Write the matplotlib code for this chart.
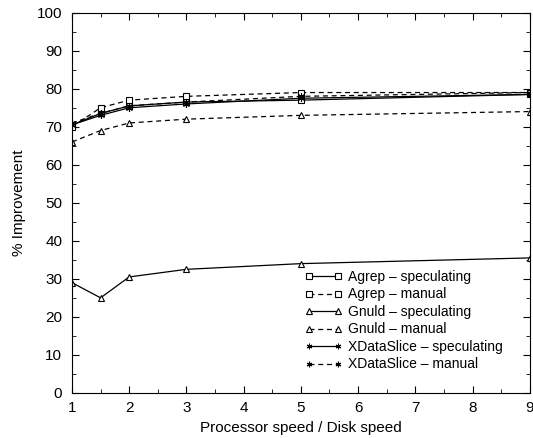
import matplotlib
matplotlib.use("Agg")
import matplotlib.pyplot as plt
from matplotlib.ticker import MultipleLocator

plt.rcParams["font.family"] = ["Liberation Sans", "DejaVu Sans"]

speed = [1, 1.5, 2, 3, 5, 9]
agrep_spec = [70.5, 73.5, 75.5, 76.5, 77, 78.5]
agrep_manual = [70, 75, 77, 78, 79, 79]
gnuld_spec = [29, 25, 30.5, 32.5, 34, 35.5]
gnuld_manual = [66, 69, 71, 72, 73, 74]
xds_spec = [70.5, 73, 75, 76, 77.5, 78.5]
xds_manual = [71, 73.5, 75.5, 76.5, 78, 79]

fig = plt.figure(figsize=(5.33, 4.38), dpi=100)
ax = fig.add_axes([0.135, 0.103, 0.859, 0.868])

star = (6, 2, 0)
dash = (0, (4, 3))
kw = dict(color="black", lw=0.9, ms=5, mfc="white", mew=0.8)
ax.plot(speed, agrep_spec, ls="-", marker="s", label="Agrep \u2013 speculating", **kw)
ax.plot(speed, agrep_manual, ls=dash, marker="s", label="Agrep \u2013 manual", **kw)
ax.plot(speed, gnuld_spec, ls="-", marker="^", label="Gnuld \u2013 speculating", **kw)
ax.plot(speed, gnuld_manual, ls=dash, marker="^", label="Gnuld \u2013 manual", **kw)
ax.plot(speed, xds_spec, ls="-", marker=star, label="XDataSlice \u2013 speculating", **kw)
ax.plot(speed, xds_manual, ls=dash, marker=star, label="XDataSlice \u2013 manual", **kw)

ax.set_xlim(1, 9)
ax.set_ylim(0, 100)
ax.xaxis.set_major_locator(MultipleLocator(1))
ax.xaxis.set_minor_locator(MultipleLocator(0.5))
ax.yaxis.set_major_locator(MultipleLocator(10))
ax.yaxis.set_minor_locator(MultipleLocator(5))
ax.tick_params(which="both", direction="in", top=True, right=True, labelsize=11)
ax.tick_params(which="major", length=5)
ax.tick_params(which="minor", length=3)
ax.tick_params(axis="y", pad=7)
ax.tick_params(axis="x", pad=6)
ax.set_xlabel("Processor speed / Disk speed", fontsize=11, labelpad=4)
ax.set_ylabel("% Improvement", fontsize=11, labelpad=8)

ax.legend(loc="upper left", bbox_to_anchor=(305 / 533, 1 - 270 / 438),
          bbox_transform=fig.transFigure, frameon=False, borderpad=0,
          borderaxespad=0, numpoints=2, markerscale=0.8,
          fontsize=10, handlelength=2.7, labelspacing=0.25, handletextpad=0.4)

fig.savefig("out.png", dpi=100)
